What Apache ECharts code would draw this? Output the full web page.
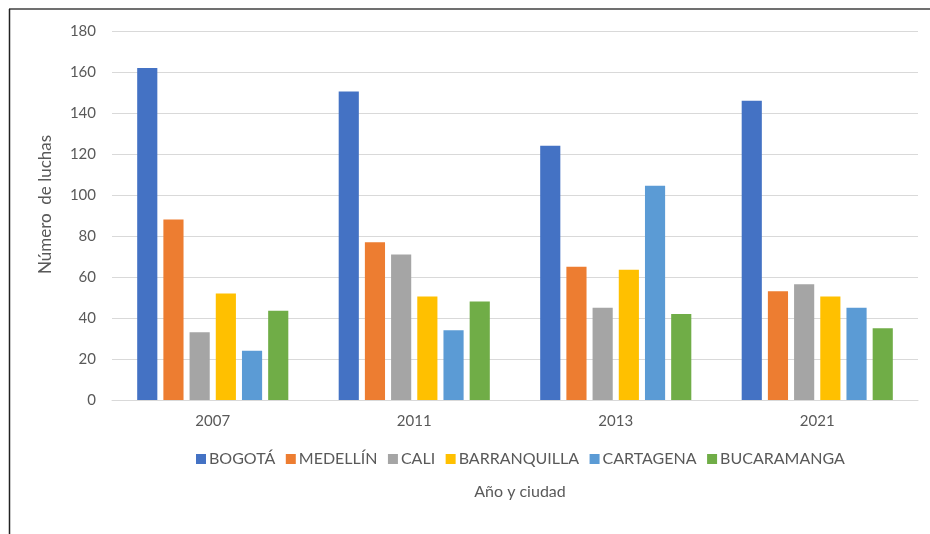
<!DOCTYPE html>
<html>
<head>
<meta charset="utf-8">
<script src="https://cdn.jsdelivr.net/npm/echarts@6/dist/echarts.min.js"></script>
<style>
html,body{margin:0;padding:0;background:#fff;}
#chart{width:930px;height:534px;}
</style>
</head>
<body>
<div id="chart"></div>
<script>
const years = ['2007', '2011', '2013', '2021'];
const cities = ['BOGOTÁ', 'MEDELLÍN', 'CALI', 'BARRANQUILLA', 'CARTAGENA', 'BUCARAMANGA'];
const bogota = [162, 150.5, 124, 146];
const medellin = [88, 77, 65, 53];
const cali = [33, 71, 45, 56.5];
const barranquilla = [52, 50.5, 63.5, 50.5];
const cartagena = [24, 34, 104.5, 45];
const bucaramanga = [43.5, 48, 42, 35];
const yTicks = [0, 20, 40, 60, 80, 100, 120, 140, 160, 180];
const colors = ['#4472C4', '#ED7D31', '#A5A5A5', '#FFC000', '#5B9BD5', '#70AD47'];

const seriesData = [bogota, medellin, cali, barranquilla, cartagena, bucaramanga];
const FONT = 'Lato';

const chart = echarts.init(document.getElementById('chart'), null, {renderer: 'canvas'});
chart.setOption({
  backgroundColor: '#fff',
  animation: false,
  color: colors,
  textStyle: {fontFamily: FONT},
  grid: {left: 112, right: 12, top: 31, bottom: 134, containLabel: false},
  legend: {
    data: cities,
    top: 446,
    left: 191,
    icon: 'rect',
    itemWidth: 10,
    itemHeight: 10,
    itemGap: 10.5,
    textStyle: {fontFamily: FONT, fontSize: 16, color: '#595959', padding: [0, 0, 0, -2]}
  },
  xAxis: {
    type: 'category',
    data: years,
    name: 'Año y ciudad',
    nameLocation: 'middle',
    nameGap: 84,
    nameTextStyle: {fontFamily: FONT, fontSize: 16, color: '#595959', padding: [0, 0, 0, 10]},
    axisLine: {lineStyle: {color: '#D9D9D9', width: 1}},
    axisTick: {show: false},
    axisLabel: {fontFamily: FONT, fontSize: 15, color: '#595959', margin: 14}
  },
  yAxis: {
    type: 'value',
    min: yTicks[0],
    max: yTicks[yTicks.length - 1],
    interval: yTicks[1] - yTicks[0],
    name: 'Número  de luchas',
    nameLocation: 'middle',
    nameGap: 58,
    nameTextStyle: {fontFamily: FONT, fontSize: 17, color: '#595959', padding: [0, 0, 0, 22]},
    axisLine: {show: false},
    axisTick: {show: false},
    axisLabel: {fontFamily: FONT, fontSize: 15, color: '#595959', margin: 16},
    splitLine: {lineStyle: {color: '#D9D9D9', width: 1}}
  },
  series: cities.map((c, i) => ({
    name: c,
    type: 'bar',
    data: seriesData[i],
    barGap: '30%',
    barCategoryGap: '25%',
    itemStyle: {color: colors[i]}
  })),
  graphic: [
    {type: 'line', shape: {x1: 9, y1: 9, x2: 930, y2: 9}, style: {stroke: '#707070', lineWidth: 2}},
    {type: 'line', shape: {x1: 9.5, y1: 9, x2: 9.5, y2: 534}, style: {stroke: '#222', lineWidth: 1.5}}
  ]
});
</script>
</body>
</html>
